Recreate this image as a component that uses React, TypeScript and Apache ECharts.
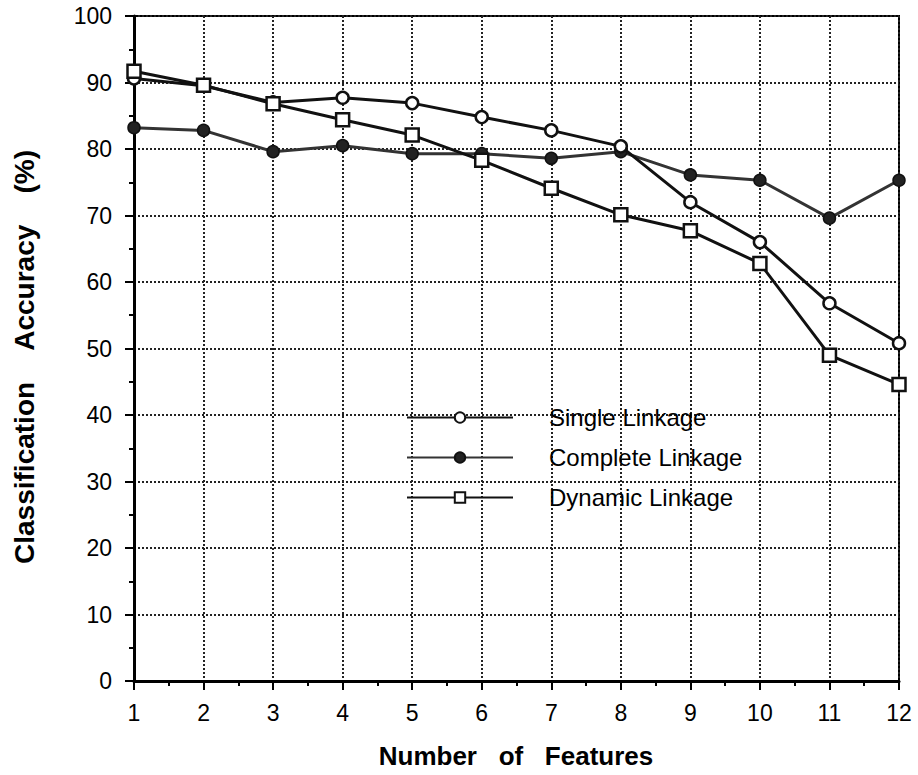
import React, { useEffect, useRef } from "react";
import * as echarts from "echarts";

const features = [1, 2, 3, 4, 5, 6, 7, 8, 9, 10, 11, 12];
const singleLinkage = [90.6, 89.5, 87.0, 87.7, 86.9, 84.8, 82.8, 80.4, 72.0, 66.0, 56.8, 50.8];
const completeLinkage = [83.2, 82.8, 79.6, 80.5, 79.3, 79.3, 78.6, 79.6, 76.1, 75.3, 69.6, 75.3];
const dynamicLinkage = [91.7, 89.6, 86.8, 84.4, 82.1, 78.3, 74.1, 70.1, 67.7, 62.8, 49.0, 44.6];
const seriesNames = ["Single Linkage", "Complete Linkage", "Dynamic Linkage"];
const xTitle = "Number\u00A0\u00A0\u00A0of\u00A0\u00A0\u00A0Features";
const yTitle = "Classification\u00A0\u00A0\u00A0\u00A0Accuracy\u00A0\u00A0\u00A0\u00A0(%)";

const FONT = "'Liberation Sans', Arial, Helvetica, sans-serif";

export default function App() {
  const ref = useRef<HTMLDivElement>(null);
  useEffect(() => {
    if (!ref.current) return;
    const chart = echarts.init(ref.current, null, { renderer: "svg" });
    const pair = (arr: number[]) => features.map((f, i) => [f, arr[i]]);
    const gridLine = { show: true, lineStyle: { color: "#222", width: 2, type: [2, 2] as any } };
    chart.setOption({
      animation: false,
      backgroundColor: "#fff",
      grid: {
        left: 134,
        right: 19,
        top: 16,
        bottom: 94,
        show: true,
        borderColor: "#000",
        borderWidth: 2,
        backgroundColor: "transparent",
      },
      xAxis: {
        type: "value",
        min: 1,
        max: 12,
        interval: 1,
        axisLine: { show: true, onZero: false, lineStyle: { color: "#000", width: 3 } },
        axisTick: { show: true, inside: false, length: 9, lineStyle: { color: "#000", width: 2 } },
        minorTick: { show: true, splitNumber: 2, length: 5, lineStyle: { color: "#000", width: 2 } },
        axisLabel: { color: "#000", fontSize: 23, fontFamily: FONT, margin: 20 },
        splitLine: gridLine,
      },
      yAxis: {
        type: "value",
        min: 0,
        max: 100,
        interval: 10,
        axisLine: { show: true, lineStyle: { color: "#000", width: 3 } },
        axisTick: { show: true, inside: false, length: 9, lineStyle: { color: "#000", width: 2 } },
        minorTick: { show: true, splitNumber: 2, length: 5, lineStyle: { color: "#000", width: 2 } },
        axisLabel: { color: "#000", fontSize: 23, fontFamily: FONT, margin: 22 },
        splitLine: gridLine,
      },
      legend: {
        show: true,
        orient: "vertical",
        left: 401,
        top: 399,
        itemWidth: 106,
        itemHeight: 13,
        itemGap: 13,
        data: seriesNames,
        textStyle: {
          color: "#000",
          fontSize: 24,
          fontFamily: FONT,
          padding: [0, 0, 0, 31],
          lineHeight: 27,
        },
      },
      graphic: [
        {
          type: "text",
          x: 516,
          y: 756,
          style: {
            text: xTitle,
            fill: "#000",
            font: `bold 26px ${FONT}`,
            textAlign: "center",
            textVerticalAlign: "middle",
          },
        },
        {
          type: "text",
          x: 24,
          y: 357,
          rotation: Math.PI / 2,
          style: {
            text: yTitle,
            fill: "#000",
            font: `bold 28px ${FONT}`,
            textAlign: "center",
            textVerticalAlign: "middle",
          },
        },
      ],
      series: [
        {
          name: seriesNames[0],
          type: "line",
          data: pair(singleLinkage),
          symbol: "circle",
          symbolSize: 12,
          lineStyle: { color: "#111", width: 3 },
          itemStyle: { color: "#fff", borderColor: "#111", borderWidth: 2.5 },
          z: 3,
        },
        {
          name: seriesNames[1],
          type: "line",
          data: pair(completeLinkage),
          symbol: "circle",
          symbolSize: 12,
          lineStyle: { color: "#333", width: 3 },
          itemStyle: { color: "#222", borderColor: "#111", borderWidth: 1.5 },
          z: 2,
        },
        {
          name: seriesNames[2],
          type: "line",
          data: pair(dynamicLinkage),
          symbol: "rect",
          symbolSize: 13,
          lineStyle: { color: "#111", width: 3 },
          itemStyle: { color: "#fff", borderColor: "#111", borderWidth: 2.5 },
          z: 4,
        },
      ],
    });
    return () => chart.dispose();
  }, []);
  return <div ref={ref} style={{ width: 918, height: 775, position: "absolute", left: 0, top: 0 }} />;
}
